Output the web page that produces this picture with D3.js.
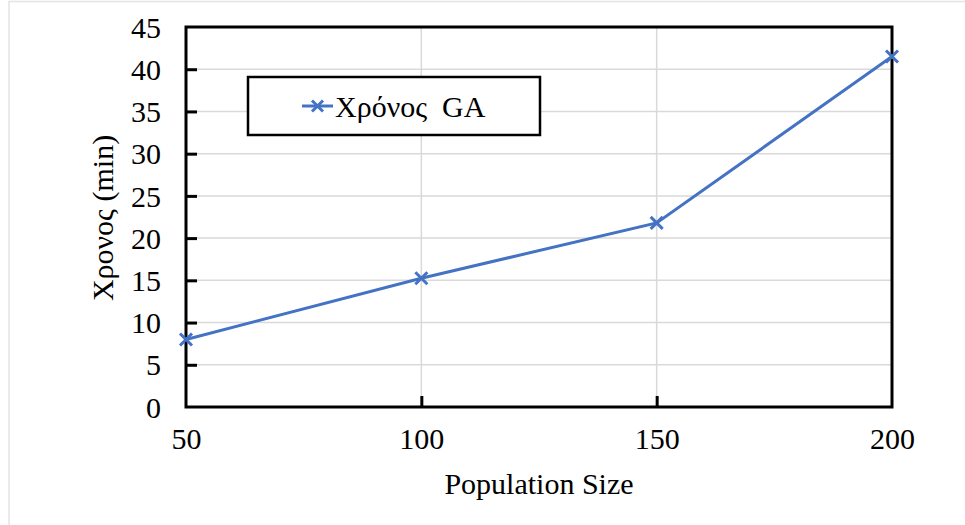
<!DOCTYPE html>
<html>
<head>
<meta charset="utf-8">
<script src="https://cdn.jsdelivr.net/npm/d3@7/dist/d3.min.js"></script>
<style>
    body { margin: 0; background: #fff; }
    text { font-family: "Liberation Serif", "Times New Roman", serif; fill: #000; }
</style>
</head>
<body>
<svg width="965" height="525"></svg>
<script>
var populationSizes = [50, 100, 150, 200];
var timeMinutes = [8.0, 15.25, 21.8, 41.5];
var xTicks = [50, 100, 150, 200];
var yTicks = [0, 5, 10, 15, 20, 25, 30, 35, 40, 45];
var seriesName = "Χρόνος  GA";
var xTitle = "Population Size";
var yTitle = "Χρονος (min)";

var svg = d3.select("svg");
var blue = "#4472c4";

// faint image border
svg.append("path")
    .attr("d", "M9,525 V1.5 H965")
    .attr("fill", "none")
    .attr("stroke", "#e4e4e4")
    .attr("stroke-width", 1.5);

var plotLeft = 186, plotRight = 892, plotTop = 27, plotBottom = 407;

var x = d3.scaleLinear().domain([50, 200]).range([plotLeft, plotRight]);
var y = d3.scaleLinear().domain([0, 45]).range([plotBottom, plotTop]);

// GRID
svg.append("g").selectAll("line")
    .data(yTicks.filter(function(d) { return d > 0 && d < 45; }))
    .enter()
    .append("line")
    .attr("x1", plotLeft).attr("x2", plotRight)
    .attr("y1", function(d) { return y(d); })
    .attr("y2", function(d) { return y(d); })
    .attr("stroke", "#d9d9d9")
    .attr("stroke-width", 1.5);

svg.append("g").selectAll("line")
    .data(xTicks.filter(function(d) { return d > 50 && d < 200; }))
    .enter()
    .append("line")
    .attr("y1", plotTop).attr("y2", plotBottom)
    .attr("x1", function(d) { return x(d); })
    .attr("x2", function(d) { return x(d); })
    .attr("stroke", "#d9d9d9")
    .attr("stroke-width", 1.5);

// AXES (inward ticks)
var yAxis = d3.axisLeft(y).tickValues(yTicks).tickSize(-11).tickPadding(25);
var xAxis = d3.axisBottom(x).tickValues(xTicks).tickSize(-11).tickPadding(25);

var gy = svg.append("g").attr("transform", "translate(" + plotLeft + ",0)").call(yAxis);
var gx = svg.append("g").attr("transform", "translate(0," + plotBottom + ")").call(xAxis);

[gx, gy].forEach(function(g) {
    g.select(".domain").remove();
    g.selectAll(".tick line").attr("stroke", "#000").attr("stroke-width", 3);
    g.selectAll(".tick text")
        .style("font-family", "'Liberation Serif', 'Times New Roman', serif")
        .style("font-size", "30px")
        .attr("fill", "#000");
});
gy.selectAll(".tick line").filter(function(d) { return d == 0 || d == 45; }).remove();
gx.selectAll(".tick line").filter(function(d) { return d == 50 || d == 200; }).remove();
gy.selectAll(".tick text").attr("dy", "0.34em");
gx.selectAll(".tick text").attr("dy", "0.55em");

// FRAME
svg.append("rect")
    .attr("x", plotLeft).attr("y", plotTop)
    .attr("width", plotRight - plotLeft).attr("height", plotBottom - plotTop)
    .attr("fill", "none")
    .attr("stroke", "#000")
    .attr("stroke-width", 3);

// LINE
var points = populationSizes.map(function(p, i) { return {x: p, y: timeMinutes[i]}; });
var line = d3.line()
    .x(function(d) { return x(d.x); })
    .y(function(d) { return y(d.y); });

svg.append("path")
    .attr("d", line(points))
    .attr("fill", "none")
    .attr("stroke", blue)
    .attr("stroke-width", 3);

function cross(g, cx, cy, r) {
    g.append("path")
        .attr("d", "M" + (cx - r) + "," + (cy - r) + "L" + (cx + r) + "," + (cy + r) +
                   "M" + (cx - r) + "," + (cy + r) + "L" + (cx + r) + "," + (cy - r))
        .attr("stroke", blue)
        .attr("stroke-width", 3)
        .attr("fill", "none");
}

var markers = svg.append("g");
points.forEach(function(d) { cross(markers, x(d.x), y(d.y), 6); });

// LEGEND
var legend = svg.append("g");
legend.append("rect")
    .attr("x", 248).attr("y", 77)
    .attr("width", 292).attr("height", 58)
    .attr("fill", "#fff")
    .attr("stroke", "#000")
    .attr("stroke-width", 2.5);
legend.append("line")
    .attr("x1", 302).attr("x2", 333)
    .attr("y1", 106).attr("y2", 106)
    .attr("stroke", blue)
    .attr("stroke-width", 3);
cross(legend, 317.5, 106, 5.5);
legend.append("text")
    .attr("x", 335).attr("y", 117)
    .style("font-size", "30px")
    .style("white-space", "pre")
    .attr("xml:space", "preserve")
    .text(seriesName);

// TITLES
svg.append("text")
    .attr("x", (plotLeft + plotRight) / 2).attr("y", 494)
    .attr("text-anchor", "middle")
    .style("font-size", "30px")
    .text(xTitle);

svg.append("text")
    .attr("transform", "translate(113,218) rotate(-90)")
    .attr("text-anchor", "middle")
    .style("font-size", "30px")
    .text(yTitle);
</script>
</body>
</html>
